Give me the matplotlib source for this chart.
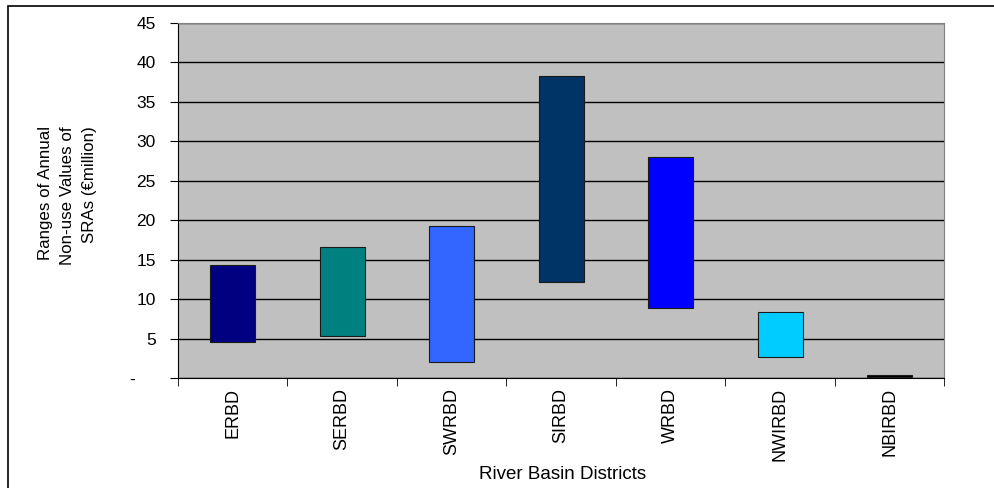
import matplotlib.pyplot as plt
from matplotlib.patches import Rectangle

plt.rcParams['font.family'] = ['Liberation Sans', 'DejaVu Sans']

# datos
distritos = ["ERBD", "SERBD", "SWRBD", "SIRBD", "WRBD", "NWIRBD", "NBIRBD"]
minimos = [4.6, 5.3, 2.0, 12.2, 8.9, 2.6, 0.1]
maximos = [14.3, 16.6, 19.3, 38.3, 28.0, 8.4, 0.35]
colores = ["#000080", "#008080", "#3366FF", "#003366", "#0000FF", "#00CCFF", "#000000"]
ticksY = [0, 5, 10, 15, 20, 25, 30, 35, 40, 45]
etiquetasY = ["-    ", "5", "10", "15", "20", "25", "30", "35", "40", "45"]

fig = plt.figure(figsize=(9.94, 4.88), dpi=100)
ax = fig.add_axes([0.179, 0.2254, 0.771, 0.7276])

# marco exterior de la figura
fig.patches.append(Rectangle((0.008, -0.01), 0.995, 0.998, transform=fig.transFigure,
                             fill=False, edgecolor="black", linewidth=1.2))

ax.set_facecolor("#C0C0C0")
posiciones = list(range(len(distritos)))
alturas = [hi - lo for lo, hi in zip(minimos, maximos)]
ax.bar(posiciones, alturas, bottom=minimos, width=0.41, color=colores,
       edgecolor="#1a1a1a", linewidth=0.8, zorder=3)

ax.set_xlim(-0.5, len(distritos) - 0.5)
ax.set_ylim(0, 45)
ax.set_yticks(ticksY)
ax.set_yticklabels(etiquetasY, fontsize=12.5)
ax.yaxis.grid(True, color="black", linewidth=1.0, zorder=1)
ax.set_axisbelow(True)

ax.set_xticks(posiciones)
ax.set_xticklabels(distritos, rotation=90, fontsize=13)
ax.tick_params(axis="x", length=0, pad=7)
ax.set_xticks([p + 0.5 for p in [-1] + posiciones], minor=True)
ax.tick_params(axis="x", which="minor", length=6, direction="out", color="black")
ax.tick_params(axis="y", length=6, direction="out", pad=10)

ax.spines["top"].set_color("#808080")
ax.spines["right"].set_color("#808080")
ax.spines["left"].set_color("black")
ax.spines["bottom"].set_color("black")

fig.text(0.5655, 0.027, "River Basin Districts", fontsize=13.5, ha="center", va="center")
fig.text(0.068, 0.60, "Ranges of Annual\nNon-use Values of\nSRAs (€million)", fontsize=12.2,
         rotation=90, ha="center", va="center", multialignment="right", linespacing=1.6)

fig.savefig("out.png", dpi=100)
